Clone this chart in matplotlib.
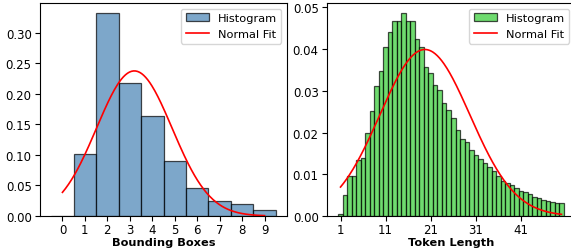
import numpy as np
import matplotlib
matplotlib.use('Agg')
import matplotlib.pyplot as plt

# bounding boxes per image (density)
bbox_counts = [0, 1, 2, 3, 4, 5, 6, 7, 8, 9]
bbox_density = [0.0, 0.102, 0.332, 0.217, 0.163, 0.090, 0.046, 0.025, 0.019, 0.010]
bbox_mu, bbox_sigma = 3.2, 1.68

# token length (density)
tok_len = list(range(1, 51))
tok_density = [0.0005, 0.0051, 0.0095, 0.0095, 0.0133, 0.0138, 0.0198, 0.0251, 0.0311, 0.0347,
               0.0404, 0.0440, 0.0466, 0.0466, 0.0486, 0.0466, 0.0466, 0.0424, 0.0404, 0.0358,
               0.0343, 0.0315, 0.0303, 0.0270, 0.0254, 0.0234, 0.0206, 0.0185, 0.0178, 0.0157,
               0.0147, 0.0137, 0.0126, 0.0117, 0.0107, 0.0097, 0.0085, 0.0078, 0.0074, 0.0066,
               0.0061, 0.0057, 0.0053, 0.0045, 0.0043, 0.0038, 0.0035, 0.0033, 0.0030, 0.0030]
tok_mu, tok_sigma = 19.7, 10.0
tok_ticks = [1, 11, 21, 31, 41]

plt.rcParams['font.size'] = 8.5
plt.rcParams['xtick.major.pad'] = 1.5
plt.rcParams['ytick.major.pad'] = 2.5
plt.rcParams['legend.fontsize'] = 8.2


def normal_pdf(x, mu, sigma):
    return np.exp(-(x - mu) ** 2 / (2 * sigma ** 2)) / (sigma * np.sqrt(2 * np.pi))


W, H = 571, 253
fig = plt.figure(figsize=(W / 100, H / 100), dpi=100)

#__Bounding boxes__#
ax1 = fig.add_axes([40 / W, 36 / H, 247 / W, 213 / H])
b1 = ax1.bar(bbox_counts, bbox_density, width=1.0, color='steelblue', edgecolor='black',
             alpha=0.7, linewidth=0.9)
xs = np.linspace(min(bbox_counts), max(bbox_counts), 200)
l1, = ax1.plot(xs, normal_pdf(xs, bbox_mu, bbox_sigma), 'r-', linewidth=1.2)
ax1.set_xticks(bbox_counts)
ax1.set_xlabel('Bounding Boxes', fontweight='bold', fontsize=8.2, labelpad=1)
ax1.legend([b1, l1], ['Histogram', 'Normal Fit'], loc='upper right')

#__Token length__#
ax2 = fig.add_axes([327 / W, 36 / H, 248 / W, 213 / H])
b2 = ax2.bar(tok_len, tok_density, width=1.0, color='limegreen', edgecolor='black',
             alpha=0.7, linewidth=0.9)
xs = np.linspace(min(tok_len), max(tok_len), 300)
l2, = ax2.plot(xs, normal_pdf(xs, tok_mu, tok_sigma), 'r-', linewidth=1.2)
ax2.set_xticks(tok_ticks)
ax2.set_xlabel('Token Length', fontweight='bold', fontsize=8.2, labelpad=1)
ax2.legend([b2, l2], ['Histogram', 'Normal Fit'], loc='upper right')

fig.savefig('out.png', dpi=100)
